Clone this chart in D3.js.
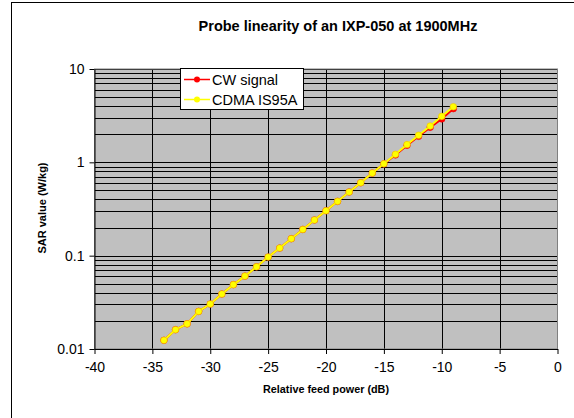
<!DOCTYPE html>
<html>
<head>
<meta charset="utf-8">
<script src="https://cdn.jsdelivr.net/npm/d3@7"></script>
<style>
  body { margin: 0; background: #fff; }
  text { font-family: "Liberation Sans", Arial, sans-serif; }
</style>
</head>
<body>
<div id="chart"></div>
<script>
// feed power steps (dB)
var power = [-34, -33, -32, -31, -30, -29, -28, -27, -26, -25, -24, -23, -22, -21, -20,
  -19, -18, -17, -16, -15, -14, -13, -12, -11, -10, -9];

var cwSar = [0.0124, 0.0161, 0.0186, 0.0253, 0.0303, 0.0388, 0.0489, 0.0604, 0.076, 0.0966,
  0.1206, 0.152, 0.191, 0.241, 0.303, 0.382, 0.481, 0.604, 0.767, 0.962,
  1.2, 1.52, 1.9, 2.37, 2.92, 3.76];

var cdmaSar = [0.0124, 0.0161, 0.0186, 0.0253, 0.0303, 0.0388, 0.0489, 0.0604, 0.076, 0.0966,
  0.1206, 0.152, 0.191, 0.241, 0.303, 0.382, 0.481, 0.604, 0.767, 0.966,
  1.22, 1.55, 1.95, 2.45, 3.11, 3.94];

var xTicks = [-40, -35, -30, -25, -20, -15, -10, -5, 0];
var yTicks = [0.01, 0.1, 1, 10];
var seriesNames = ["CW signal", "CDMA IS95A"];

var svgWidth = 574;
var svgHeight = 418;

var plot = { left: 94.5, top: 69, right: 557.5, bottom: 349 };

var svg = d3.select("#chart")
  .append("svg")
  .attr("width", svgWidth)
  .attr("height", svgHeight);

// outer chart border
svg.append("rect")
  .attr("x", 11.5)
  .attr("y", 2.5)
  .attr("width", 700)
  .attr("height", 600)
  .attr("fill", "#fff")
  .attr("stroke", "#000");

var x = d3.scaleLinear()
  .domain([-40, 0])
  .range([plot.left, plot.right]);

var y = d3.scaleLog()
  .domain([0.01, 10])
  .range([plot.bottom, plot.top]);

// plot background
svg.append("rect")
  .attr("x", plot.left)
  .attr("y", plot.top)
  .attr("width", plot.right - plot.left)
  .attr("height", plot.bottom - plot.top)
  .attr("fill", "#c0c0c0");

// gridlines
var minorVals = [];
[0.01, 0.1, 1].forEach(function(d) {
  for (var k = 2; k <= 9; k++) minorVals.push(d * k);
});

svg.append("g")
  .selectAll("line")
  .data(minorVals.concat(yTicks))
  .enter()
  .append("line")
  .attr("x1", plot.left)
  .attr("x2", plot.right)
  .attr("y1", d => Math.round(y(d)) + 0.5)
  .attr("y2", d => Math.round(y(d)) + 0.5)
  .attr("stroke", "#000")
  .attr("stroke-width", 1);

svg.append("g")
  .selectAll("line")
  .data(xTicks.slice(1, -1))
  .enter()
  .append("line")
  .attr("x1", d => Math.round(x(d)) + 0.5)
  .attr("x2", d => Math.round(x(d)) + 0.5)
  .attr("y1", plot.top)
  .attr("y2", plot.bottom)
  .attr("stroke", "#000")
  .attr("stroke-width", 1);

// plot border
svg.append("rect")
  .attr("x", plot.left)
  .attr("y", plot.top)
  .attr("width", plot.right - plot.left)
  .attr("height", plot.bottom - plot.top)
  .attr("fill", "none")
  .attr("stroke", "#808080");

// axes (plain hyphen minus like the original)
var bottomAxis = d3.axisBottom(x)
  .tickValues(xTicks)
  .tickFormat(d => String(d))
  .tickSizeOuter(0)
  .tickSizeInner(5);

var leftAxis = d3.axisLeft(y)
  .tickValues(yTicks)
  .tickFormat(d => String(d))
  .tickSizeOuter(0)
  .tickSizeInner(5);

var gx = svg.append("g")
  .attr("transform", "translate(0," + plot.bottom + ")")
  .call(bottomAxis);

var gy = svg.append("g")
  .attr("transform", "translate(" + plot.left + ",0)")
  .call(leftAxis);

[gx, gy].forEach(function(g) {
  g.select(".domain").attr("stroke", "#000");
  g.selectAll(".tick line").attr("stroke", "#000");
  g.selectAll(".tick text")
    .attr("font-size", 14)
    .attr("fill", "#000")
    .style("font-family", "'Liberation Sans', Arial, sans-serif");
});
gx.selectAll(".tick text").attr("dy", "1.1em");
gy.selectAll(".tick text").attr("x", -10);

// title and axis labels
svg.append("text")
  .attr("x", 338)
  .attr("y", 31)
  .attr("text-anchor", "middle")
  .attr("font-size", 14.5)
  .attr("font-weight", "bold")
  .text("Probe linearity of an IXP-050 at 1900MHz");

svg.append("text")
  .attr("x", 326)
  .attr("y", 393)
  .attr("text-anchor", "middle")
  .attr("font-size", 10.8)
  .attr("font-weight", "bold")
  .text("Relative feed power (dB)");

svg.append("text")
  .attr("transform", "translate(46,208) rotate(-90)")
  .attr("text-anchor", "middle")
  .attr("font-size", 11)
  .attr("font-weight", "bold")
  .text("SAR value (W/kg)");

// series
var line = d3.line()
  .x(d => x(d[0]))
  .y(d => y(d[1]));

var series = [
  { name: seriesNames[0], color: "#ff0000", values: d3.zip(power, cwSar) },
  { name: seriesNames[1], color: "#ffff00", values: d3.zip(power, cdmaSar) }
];

series.forEach(function(s, i) {
  svg.append("path")
    .datum(s.values)
    .attr("d", line)
    .attr("fill", "none")
    .attr("stroke", s.color)
    .attr("stroke-width", 2);

  svg.append("g")
    .selectAll("circle")
    .data(s.values)
    .enter()
    .append("circle")
    .attr("cx", d => x(d[0]))
    .attr("cy", d => y(d[1]))
    .attr("r", 3.3)
    .attr("fill", s.color)
    .attr("stroke", i == 0 ? "#ff0000" : "#f0c000")
    .attr("stroke-width", 0.6);
});

// legend
var legend = svg.append("g");

legend.append("rect")
  .attr("x", 180.5)
  .attr("y", 68.5)
  .attr("width", 123)
  .attr("height", 41)
  .attr("fill", "#fff")
  .attr("stroke", "#000");

series.forEach(function(s, i) {
  var ly = 79.5 + i * 20;
  legend.append("line")
    .attr("x1", 184)
    .attr("x2", 210)
    .attr("y1", ly)
    .attr("y2", ly)
    .attr("stroke", s.color)
    .attr("stroke-width", 1.5);
  legend.append("circle")
    .attr("cx", 197)
    .attr("cy", ly)
    .attr("r", 3)
    .attr("fill", s.color);
  legend.append("text")
    .attr("x", 212)
    .attr("y", ly + 5)
    .attr("font-size", 14.5)
    .text(s.name);
});
</script>
</body>
</html>
